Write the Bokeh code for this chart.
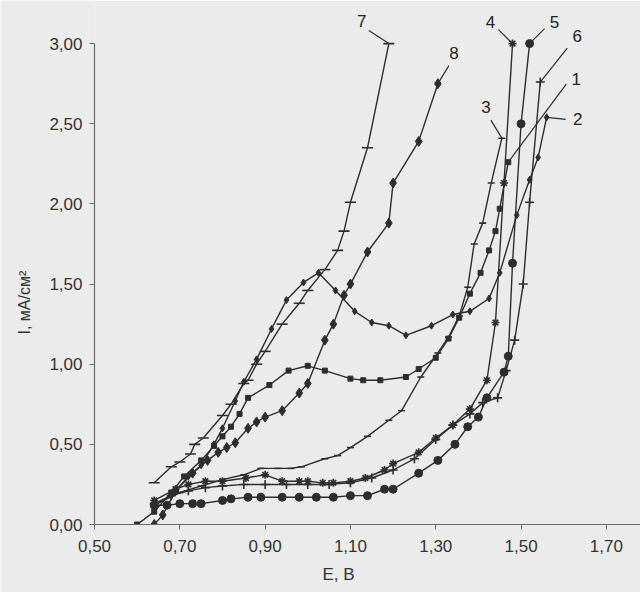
from bokeh.plotting import figure
from bokeh.models import FixedTicker, Range1d, Title
from bokeh.core.properties import value
from bokeh.embed import file_html
from bokeh.resources import INLINE

# ---------------- data ----------------
x_ticks = [0.5, 0.7, 0.9, 1.1, 1.3, 1.5, 1.7]
x_tick_labels = ["0,50", "0,70", "0,90", "1,10", "1,30", "1,50", "1,70"]
y_ticks = [0.0, 0.5, 1.0, 1.5, 2.0, 2.5, 3.0]
y_tick_labels = ["0,00", "0,50", "1,00", "1,50", "2,00", "2,50", "3,00"]
x_title = "E, В"
y_title = "I, мА/см²"

curve_names = ["1", "2", "3", "4", "5", "6", "7", "8"]

e1 = [0.60, 0.64, 0.68, 0.71, 0.75, 0.78, 0.80, 0.82, 0.84, 0.86, 0.91, 0.955, 1.00, 1.04,
      1.10, 1.13, 1.17, 1.23, 1.26, 1.30, 1.33, 1.355, 1.38, 1.405, 1.425, 1.44, 1.45, 1.47]
i1 = [0.00, 0.08, 0.20, 0.30, 0.40, 0.49, 0.55, 0.61, 0.69, 0.79, 0.87, 0.96, 0.99, 0.96,
      0.91, 0.90, 0.90, 0.92, 0.97, 1.04, 1.16, 1.29, 1.44, 1.57, 1.71, 1.83, 1.97, 2.26]

e2 = [0.64, 0.68, 0.72, 0.75, 0.78, 0.80, 0.83, 0.85, 0.88, 0.915, 0.95, 0.99, 1.025,
      1.065, 1.11, 1.15, 1.19, 1.23, 1.29, 1.34, 1.38, 1.425, 1.45, 1.49, 1.52, 1.54, 1.56]
i2 = [0.12, 0.18, 0.30, 0.37, 0.50, 0.60, 0.77, 0.89, 1.03, 1.22, 1.40, 1.51, 1.57,
      1.46, 1.33, 1.26, 1.24, 1.18, 1.24, 1.31, 1.33, 1.41, 1.57, 1.93, 2.15, 2.29, 2.54]

e3 = [0.64, 0.70, 0.75, 0.80, 0.85, 0.89, 0.93, 0.96, 0.985, 1.04, 1.07, 1.10, 1.14,
      1.19, 1.22, 1.265, 1.305, 1.33, 1.355, 1.375, 1.39, 1.41, 1.43, 1.455]
i3 = [0.12, 0.20, 0.24, 0.28, 0.31, 0.35, 0.35, 0.35, 0.36, 0.41, 0.43, 0.48, 0.55,
      0.65, 0.71, 0.92, 1.07, 1.17, 1.30, 1.48, 1.75, 1.88, 2.13, 2.41]

e4 = [0.64, 0.69, 0.72, 0.76, 0.80, 0.855, 0.90, 0.94, 0.98, 1.00, 1.035, 1.06, 1.10,
      1.135, 1.18, 1.20, 1.26, 1.30, 1.34, 1.38, 1.42, 1.44, 1.46, 1.48]
i4 = [0.15, 0.22, 0.25, 0.27, 0.27, 0.29, 0.31, 0.27, 0.27, 0.27, 0.26, 0.26, 0.27,
      0.29, 0.34, 0.38, 0.45, 0.54, 0.62, 0.72, 0.90, 1.26, 2.13, 3.00]

e5 = [0.64, 0.67, 0.70, 0.73, 0.75, 0.80, 0.82, 0.86, 0.89, 0.94, 0.98, 1.02, 1.06, 1.10,
      1.14, 1.18, 1.20, 1.26, 1.305, 1.345, 1.375, 1.40, 1.42, 1.46, 1.47, 1.48, 1.50, 1.52]
i5 = [0.12, 0.12, 0.13, 0.13, 0.13, 0.15, 0.16, 0.17, 0.17, 0.17, 0.17, 0.17, 0.17, 0.18,
      0.18, 0.22, 0.22, 0.32, 0.40, 0.50, 0.61, 0.67, 0.79, 0.95, 1.05, 1.63, 2.50, 3.00]

e6 = [0.64, 0.68, 0.72, 0.76, 0.80, 0.85, 0.90, 0.95, 1.00, 1.05, 1.10, 1.15, 1.20, 1.25,
      1.30, 1.34, 1.38, 1.41, 1.445, 1.465, 1.485, 1.505, 1.52, 1.545]
i6 = [0.13, 0.18, 0.21, 0.23, 0.24, 0.25, 0.25, 0.25, 0.25, 0.25, 0.26, 0.29, 0.34, 0.41,
      0.53, 0.62, 0.69, 0.76, 0.79, 0.96, 1.15, 1.50, 2.01, 2.76]

e7 = [0.64, 0.68, 0.70, 0.725, 0.735, 0.755, 0.80, 0.82, 0.85, 0.86, 0.88, 0.90, 0.94,
      0.98, 1.00, 1.04, 1.07, 1.085, 1.10, 1.14, 1.19]
i7 = [0.26, 0.36, 0.39, 0.44, 0.50, 0.54, 0.68, 0.75, 0.88, 0.90, 1.00, 1.08, 1.25,
      1.38, 1.46, 1.59, 1.71, 1.83, 2.01, 2.35, 3.00]

e8 = [0.64, 0.66, 0.69, 0.73, 0.765, 0.79, 0.81, 0.83, 0.86, 0.88, 0.90, 0.94, 0.98, 1.00,
      1.04, 1.06, 1.085, 1.10, 1.14, 1.19, 1.20, 1.26, 1.305]
i8 = [0.00, 0.06, 0.21, 0.32, 0.40, 0.45, 0.48, 0.51, 0.60, 0.64, 0.67, 0.71, 0.82, 0.88,
      1.15, 1.25, 1.43, 1.50, 1.70, 1.88, 2.13, 2.39, 2.75]

curves_e = [e1, e2, e3, e4, e5, e6, e7, e8]
curves_i = [i1, i2, i3, i4, i5, i6, i7, i8]

# ---------------- styles ----------------
markers = ["square", "diamond", "dash", "asterisk", "circle", "cross", "dash", "diamond"]
msizes = [5, 7, 7, 8, 8, 9, 11, 10]
# leader end and label position as pixel offsets from each curve's last point
leader_off = [(58, -78), (19, 2), (-11, -18), (-14, -14), (15, -15), (27, -34), (-20, -13), (11, -18)]
label_off = [(68, -83), (31, 2), (-16, -31), (-22, -22), (25, -22), (37, -46), (-27, -23), (16, -31)]

INK = "#2d2d2d"
TXT = "#333333"
BG = "#ebebeb"
FONT = "Liberation Sans"

W, H = 640, 592
left, right, top, bottom = 94, 0, 5, 68
x0, x1 = 0.5, 1.78
fw, fh = W - left - right, H - top - bottom
px_per_i = 160.3
y1 = fh / px_per_i
px_per_e = fw / (x1 - x0)

p = figure(width=W, height=H, output_backend="svg", toolbar_location=None,
           x_range=Range1d(x0, x1), y_range=Range1d(0, y1),
           min_border_left=left, min_border_right=right,
           min_border_top=top, min_border_bottom=bottom)
p.background_fill_color = BG
p.border_fill_color = BG
p.outline_line_color = None
p.grid.visible = False

for ax in (p.xaxis[0], p.yaxis[0]):
    ax.axis_line_color = "#6a6a6a"
    ax.axis_line_width = 1.2
    ax.major_tick_line_color = "#6a6a6a"
    ax.major_tick_in = 0
    ax.major_tick_out = 5
    ax.minor_tick_line_color = None
    ax.major_label_text_font = FONT
    ax.major_label_text_font_size = "17px"
    ax.major_label_text_color = TXT

p.xaxis.ticker = FixedTicker(ticks=x_ticks)
p.yaxis.ticker = FixedTicker(ticks=y_ticks)
p.xaxis.major_label_overrides = {t: s for t, s in zip(x_ticks, x_tick_labels)}
p.yaxis.major_label_overrides = {t: s for t, s in zip(y_ticks, y_tick_labels)}
p.xaxis.bounds = (x0, x1)
p.yaxis.bounds = (0, 3.0)
p.xaxis.major_label_standoff = 10
p.yaxis.major_label_standoff = 7

for k, (ee, ii) in enumerate(zip(curves_e, curves_i)):
    p.line(ee, ii, line_color=INK, line_width=1.4)
    p.scatter(ee, ii, marker=markers[k], size=msizes[k], line_color=INK,
              fill_color=INK, line_width=1.6 if markers[k] in ("dash", "cross", "asterisk") else 1)
    ex, ey = ee[-1], ii[-1]
    lx = ex + leader_off[k][0] / px_per_e
    ly = ey - leader_off[k][1] / px_per_i
    p.line([ex, lx], [ey, ly], line_color=INK, line_width=1.2)
    tx = ex + label_off[k][0] / px_per_e
    ty = ey - label_off[k][1] / px_per_i
    p.text([tx], [ty], text=[curve_names[k]], text_font=value(FONT), text_font_size="17px",
           text_color="#222222", text_align="center", text_baseline="middle")

xt = Title(text=x_title, align="left", offset=228, text_font=FONT,
           text_font_size="17px", text_font_style="normal", text_color=TXT)
yt = Title(text=y_title, align="left", offset=190, text_font=FONT,
           text_font_size="16px", text_font_style="normal", text_color=TXT)
if "standoff" in Title.properties():
    xt.standoff = 16
    yt.standoff = 27
p.add_layout(xt, "below")
p.add_layout(yt, "left")

open("out.html", "w").write(file_html(p, INLINE))
